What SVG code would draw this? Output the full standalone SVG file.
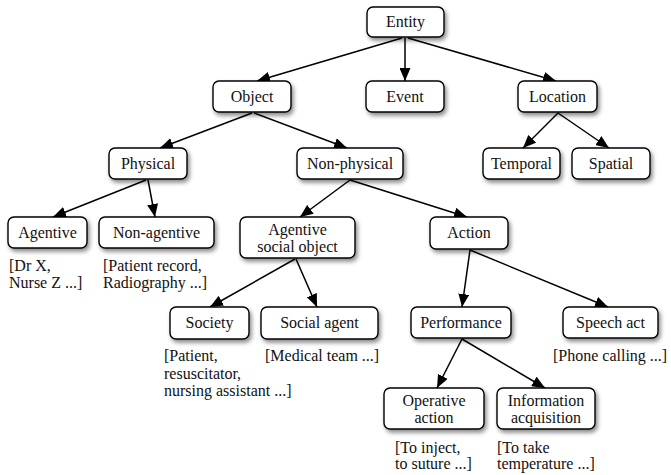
<svg xmlns="http://www.w3.org/2000/svg" width="671" height="475" viewBox="0 0 671 475" font-family="Liberation Serif, Times New Roman, serif">
<style>
.box{fill:#fff;stroke:#000;stroke-width:1.4;filter:url(#sh)}
.t{font-family:Liberation Serif, Times New Roman, serif;font-size:16px;fill:#111;text-anchor:middle}
.n{font-family:Liberation Serif, Times New Roman, serif;font-size:16px;fill:#111}
.e{stroke:#000;stroke-width:1.5;fill:none;marker-end:url(#ah)}
</style>
<defs>
<filter id="sh" x="-20%" y="-30%" width="150%" height="180%">
<feDropShadow dx="2" dy="3" stdDeviation="2" flood-color="#000" flood-opacity="0.45"/>
</filter>
<marker id="ah" markerUnits="userSpaceOnUse" markerWidth="13" markerHeight="11" refX="13" refY="5.5" orient="auto">
<path d="M0,0 L13,5.5 L0,11 z" fill="#000"/>
</marker>
</defs>
<g id="connectors">
<line class="e" x1="402" y1="38" x2="257" y2="81"/>
<line class="e" x1="405" y1="38" x2="405" y2="81"/>
<line class="e" x1="408" y1="38" x2="556" y2="81"/>
<line class="e" x1="252" y1="113" x2="160" y2="148"/>
<line class="e" x1="254" y1="113" x2="347" y2="148"/>
<line class="e" x1="558" y1="113" x2="523" y2="148"/>
<line class="e" x1="558" y1="113" x2="609" y2="148"/>
<line class="e" x1="146" y1="180" x2="53" y2="217"/>
<line class="e" x1="148" y1="180" x2="155" y2="217"/>
<line class="e" x1="350" y1="180" x2="300" y2="217"/>
<line class="e" x1="350" y1="180" x2="467" y2="217"/>
<line class="e" x1="295" y1="259" x2="210" y2="307"/>
<line class="e" x1="296" y1="259" x2="317" y2="307"/>
<line class="e" x1="470" y1="250" x2="462" y2="307"/>
<line class="e" x1="470" y1="250" x2="608" y2="307"/>
<line class="e" x1="462" y1="339" x2="437" y2="388"/>
<line class="e" x1="462" y1="339" x2="545" y2="388"/>
</g>
<g id="entity"><rect class="box" x="367" y="7" width="77" height="30" rx="6"/><text class="t" x="405.5" y="27">Entity</text></g>
<g id="object"><rect class="box" x="213" y="81" width="78" height="31" rx="6"/><text class="t" x="252" y="102">Object</text></g>
<g id="event"><rect class="box" x="366" y="81" width="78" height="31" rx="6"/><text class="t" x="405" y="102">Event</text></g>
<g id="location"><rect class="box" x="518" y="81" width="79" height="31" rx="6"/><text class="t" x="557.5" y="102">Location</text></g>
<g id="physical"><rect class="box" x="109" y="148" width="78" height="31" rx="6"/><text class="t" x="148" y="169">Physical</text></g>
<g id="non-physical"><rect class="box" x="297" y="148" width="106" height="31" rx="6"/><text class="t" x="350" y="169">Non-physical</text></g>
<g id="temporal"><rect class="box" x="483" y="148" width="77" height="31" rx="6"/><text class="t" x="521.5" y="169">Temporal</text></g>
<g id="spatial"><rect class="box" x="572" y="148" width="78" height="31" rx="6"/><text class="t" x="611" y="169">Spatial</text></g>
<g id="agentive"><rect class="box" x="8" y="217" width="79" height="31" rx="6"/><text class="t" x="47.5" y="238">Agentive</text>
<text class="n" x="9" y="271">[Dr X,</text><text class="n" x="9" y="288">Nurse Z ...]</text></g>
<g id="non-agentive"><rect class="box" x="99" y="217" width="115" height="31" rx="6"/><text class="t" x="156.5" y="238">Non-agentive</text>
<text class="n" x="103" y="271">[Patient record,</text><text class="n" x="103" y="288">Radiography ...]</text></g>
<g id="agentive-social-object"><rect class="box" x="240" y="217" width="115" height="41" rx="6"/><text class="t" x="297.5" y="235">Agentive</text><text class="t" x="297.5" y="252">social object</text></g>
<g id="action"><rect class="box" x="430" y="217" width="78" height="32" rx="6"/><text class="t" x="469" y="238">Action</text></g>
<g id="society"><rect class="box" x="170" y="307" width="79" height="32" rx="6"/><text class="t" x="209.5" y="328">Society</text>
<text class="n" x="164" y="361">[Patient,</text><text class="n" x="164" y="379">resuscitator,</text><text class="n" x="164" y="396">nursing assistant ...]</text></g>
<g id="social-agent"><rect class="box" x="261" y="307" width="117" height="32" rx="6"/><text class="t" x="319.5" y="328">Social agent</text>
<text class="n" x="265" y="361">[Medical team ...]</text></g>
<g id="performance"><rect class="box" x="411" y="307" width="100" height="31" rx="6"/><text class="t" x="461" y="328">Performance</text></g>
<g id="speech-act"><rect class="box" x="563" y="307" width="95" height="31" rx="6"/><text class="t" x="610.5" y="328">Speech act</text>
<text class="n" x="553" y="361">[Phone calling ...]</text></g>
<g id="operative-action"><rect class="box" x="384" y="388" width="100" height="41" rx="6"/><text class="t" x="434" y="406">Operative</text><text class="t" x="434" y="423">action</text>
<text class="n" x="395" y="453">[To inject,</text><text class="n" x="395" y="469">to suture ...]</text></g>
<g id="information-acquisition"><rect class="box" x="497" y="388" width="98" height="41" rx="6"/><text class="t" x="546" y="406">Information</text><text class="t" x="546" y="423">acquisition</text>
<text class="n" x="497" y="453">[To take</text><text class="n" x="497" y="469">temperature ...]</text></g>
</svg>
